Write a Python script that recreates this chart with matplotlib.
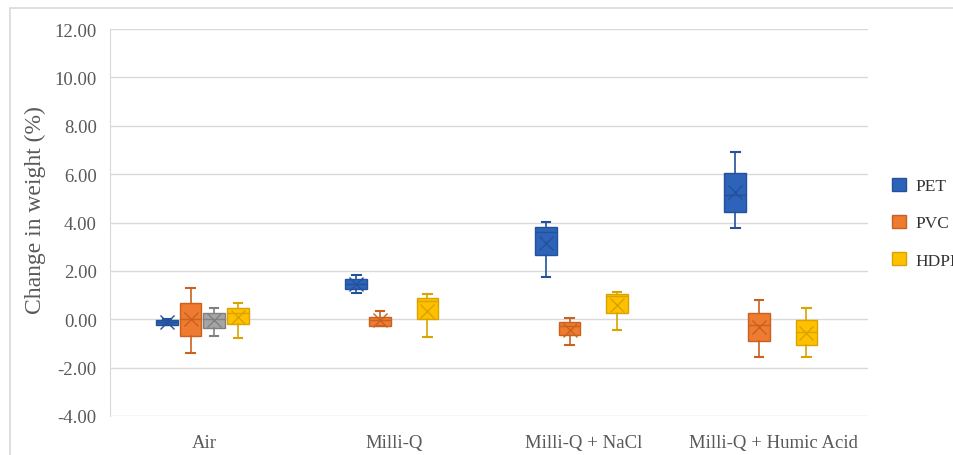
import matplotlib.pyplot as plt
from matplotlib.patches import Patch, Rectangle

plt.rcParams['font.family'] = ['Liberation Serif', 'DejaVu Serif']

# groups and series
groups = ["Air", "Milli-Q", "Milli-Q + NaCl", "Milli-Q + Humic Acid"]
series = ["PET", "PVC", "Grey", "HDPE"]

# box statistics per series, one value per group (None = no box)
# order: whisker low, q1, median, q3, whisker high, mean
pet_lo = [-0.25, 1.08, 1.74, 3.78]
pet_q1 = [-0.22, 1.25, 2.67, 4.45]
pet_med = [-0.10, 1.45, 3.60, 5.14]
pet_q3 = [-0.02, 1.65, 3.81, 6.05]
pet_hi = [0.03, 1.85, 4.02, 6.93]
pet_mean = [-0.10, 1.45, 3.16, 5.28]

pvc_lo = [-1.40, -0.28, -1.05, -1.58]
pvc_q1 = [-0.71, -0.28, -0.67, -0.90]
pvc_med = [0.00, -0.02, -0.28, -0.23]
pvc_q3 = [0.67, 0.09, -0.12, 0.27]
pvc_hi = [1.29, 0.36, 0.05, 0.78]
pvc_mean = [0.00, -0.05, -0.43, -0.32]

grey_lo = [-0.68, None, None, None]
grey_q1 = [-0.35, None, None, None]
grey_med = [0.00, None, None, None]
grey_q3 = [0.26, None, None, None]
grey_hi = [0.47, None, None, None]
grey_mean = [-0.05, None, None, None]

hdpe_lo = [-0.76, -0.74, -0.46, -1.58]
hdpe_q1 = [-0.21, 0.00, 0.26, -1.08]
hdpe_med = [0.27, 0.75, 0.95, -0.53]
hdpe_q3 = [0.47, 0.88, 1.04, -0.05]
hdpe_hi = [0.67, 1.03, 1.12, 0.46]
hdpe_mean = [0.10, 0.34, 0.57, -0.57]

stats_by_series = {
    "PET": (pet_lo, pet_q1, pet_med, pet_q3, pet_hi, pet_mean),
    "PVC": (pvc_lo, pvc_q1, pvc_med, pvc_q3, pvc_hi, pvc_mean),
    "Grey": (grey_lo, grey_q1, grey_med, grey_q3, grey_hi, grey_mean),
    "HDPE": (hdpe_lo, hdpe_q1, hdpe_med, hdpe_q3, hdpe_hi, hdpe_mean),
}

face = {"PET": "#2d63b9", "PVC": "#ee7b30", "Grey": "#a5a5a5", "HDPE": "#ffc000"}
edge = {"PET": "#24519a", "PVC": "#c9611f", "Grey": "#808080", "HDPE": "#d9a300"}
offsets = {"PET": -0.2, "PVC": -0.075, "Grey": 0.05, "HDPE": 0.175}

fig = plt.figure(figsize=(9.54, 4.56), dpi=100)
ax = fig.add_axes([110 / 954, 39 / 456, 758 / 954, 387 / 456])

# light border round the chart
fig.patches.append(Rectangle((10 / 954, -0.1), 1.2, (456 - 9) / 456 + 0.1,
                             transform=fig.transFigure, fill=False,
                             edgecolor='#d9d9d9', linewidth=1.2))

for name in series:
    lo, q1, med, q3, hi, mean = stats_by_series[name]
    for i in range(len(groups)):
        if q1[i] is None:
            continue
        st = [dict(whislo=lo[i], q1=q1[i], med=med[i], q3=q3[i], whishi=hi[i],
                   mean=mean[i], fliers=[])]
        c = edge[name]
        ax.bxp(st, positions=[i + offsets[name]], widths=0.115, patch_artist=True,
               showmeans=True, capwidths=0.045,
               boxprops=dict(facecolor=face[name], edgecolor=c, linewidth=1),
               medianprops=dict(color=c, linewidth=1),
               whiskerprops=dict(color=c, linewidth=1.2),
               capprops=dict(color=c, linewidth=1.5),
               meanprops=dict(marker='x', markeredgecolor=c, markersize=10,
                              markeredgewidth=1))

ax.set_xlim(-0.5, 3.5)
ax.set_ylim(-4, 12)
ax.set_yticks(range(-4, 13, 2))
ax.set_yticklabels([f"{v:.2f}" for v in range(-4, 13, 2)])
ax.set_xticks(range(len(groups)))
ax.set_xticklabels(groups)
ax.tick_params(axis='both', length=0, labelsize=13.5, labelcolor='#595959')
ax.tick_params(axis='y', pad=9.5)
ax.tick_params(axis='x', pad=13)

ax.grid(axis='y', color='#d9d9d9', linewidth=1)
ax.set_axisbelow(True)
for s in ['top', 'right', 'bottom']:
    ax.spines[s].set_visible(False)
ax.spines['left'].set_color('#d9d9d9')

ax.set_ylabel("Change in weight (%)", fontsize=17, color='#595959')
ax.yaxis.set_label_coords(-0.085, 0.535)

handles = [Patch(facecolor=face[n], edgecolor=edge[n], label=n) for n in ["PET", "PVC", "HDPE"]]
ax.legend(handles=handles, loc='upper left', bbox_to_anchor=(876 / 954, (456 - 163) / 456),
          bbox_transform=fig.transFigure, frameon=False, fontsize=12.5,
          labelspacing=1.18, handlelength=0.8, handleheight=0.8,
          handletextpad=0.6, labelcolor='#333333')

fig.savefig("out.png", dpi=100)
